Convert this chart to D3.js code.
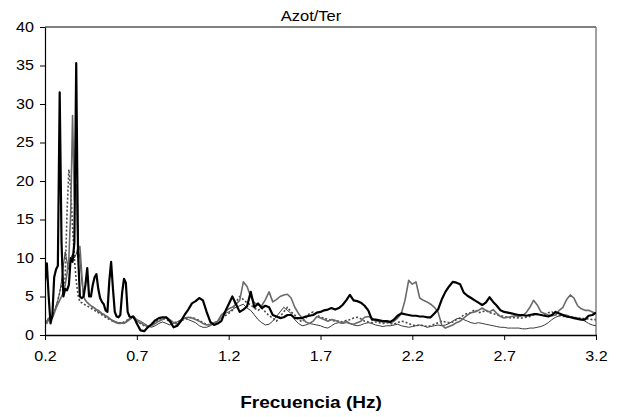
<!DOCTYPE html>
<html><head><meta charset="utf-8">
<script src="https://cdn.jsdelivr.net/npm/d3@7"></script>
<style>
html,body{margin:0;padding:0;background:#fff;}
svg{display:block;font-family:"Liberation Sans",Arial,sans-serif;}
</style></head>
<body><svg id="chart" width="621" height="417"></svg>
<script>
const title = "Azot/Ter";
const xLabel = "Frecuencia (Hz)";
const xTicks = [0.2, 0.7, 1.2, 1.7, 2.2, 2.7, 3.2];
const yTicks = [0, 5, 10, 15, 20, 25, 30, 35, 40];

const freq = [
  0.20,0.21,0.22,0.23,0.24,0.25,0.26,0.27,0.28,0.29,
  0.30,0.31,0.32,0.33,0.34,0.35,0.36,0.37,0.38,0.39,
  0.40,0.41,0.42,0.43,0.44,0.45,0.46,0.47,0.48,0.49,
  0.50,0.51,0.52,0.53,0.54,0.55,0.56,0.57,0.58,0.59,
  0.60,0.61,0.62,0.63,0.64,0.65,0.66,0.67,0.68,0.69,0.70,
  0.72,0.74,0.76,0.78,0.80,0.82,0.84,0.86,0.88,0.90,
  0.92,0.94,0.96,0.98,1.00,1.02,1.04,1.06,1.08,1.10,
  1.12,1.14,1.16,1.18,1.20,1.22,1.24,1.26,1.28,1.30,
  1.32,1.34,1.36,1.38,1.40,1.42,1.44,1.46,1.48,1.50,
  1.52,1.54,1.56,1.58,1.60,1.62,1.64,1.66,1.68,1.70,
  1.72,1.74,1.76,1.78,1.80,1.82,1.84,1.86,1.88,1.90,
  1.92,1.94,1.96,1.98,2.00,2.02,2.04,2.06,2.08,2.10,
  2.12,2.14,2.16,2.18,2.20,2.22,2.24,2.26,2.28,2.30,
  2.32,2.34,2.36,2.38,2.40,2.42,2.44,2.46,2.48,2.50,
  2.52,2.54,2.56,2.58,2.60,2.62,2.64,2.66,2.68,2.70,
  2.72,2.74,2.76,2.78,2.80,2.82,2.84,2.86,2.88,2.90,
  2.92,2.94,2.96,2.98,3.00,3.02,3.04,3.06,3.08,3.10,
  3.12,3.14,3.16,3.18,3.20
];

const serieNegra = [
  7.0,9.3,5.0,1.5,2.5,7.5,8.5,9.0,31.5,12.0,
  5.0,6.0,5.8,6.5,10.0,9.5,12.0,35.3,10.5,5.0,
  4.8,5.0,6.5,8.7,5.0,5.0,6.5,7.5,7.9,6.0,
  4.8,4.3,4.0,3.2,3.0,7.0,9.5,6.0,3.0,2.4,
  2.3,2.6,5.5,7.3,6.8,3.0,2.4,2.3,2.4,2.0,1.5,
  0.6,0.5,1.0,1.4,1.9,2.2,2.3,2.3,1.8,1.0,
  1.2,1.8,2.6,3.3,4.1,4.4,4.8,4.5,3.0,1.7,
  1.3,1.5,1.8,3.0,4.0,5.0,4.0,3.0,3.3,3.7,
  5.6,3.6,4.1,3.5,3.8,3.6,2.6,2.4,2.2,2.3,
  2.6,2.6,2.2,2.2,2.2,2.4,2.5,2.6,2.9,3.0,
  3.2,3.3,3.5,3.3,3.5,3.9,4.5,5.2,4.5,4.4,
  4.2,3.8,3.2,2.0,2.0,1.9,1.8,1.8,1.7,2.0,
  2.5,2.8,2.7,2.6,2.5,2.5,2.4,2.4,2.3,2.3,
  2.8,3.3,4.6,5.6,6.3,6.9,6.8,6.6,5.5,5.1,
  4.8,4.5,4.2,3.9,4.2,4.9,4.3,3.8,3.2,3.0,
  2.9,2.8,2.7,2.6,2.6,2.5,2.6,2.7,2.7,2.6,
  2.5,2.4,2.6,3.0,2.8,2.6,2.4,2.3,2.2,2.1,
  2.0,2.0,2.5,2.6,2.9
];

const serieGris = [
  1.8,1.5,2.0,2.3,2.2,2.8,3.5,4.0,4.5,5.0,
  5.5,6.5,8.0,10.0,16.0,28.5,17.5,19.5,11.0,11.5,
  8.0,5.0,4.5,4.2,4.0,3.8,3.6,3.5,3.3,3.2,
  3.0,2.8,2.7,2.5,2.4,2.2,2.0,1.8,1.7,1.6,
  1.5,1.5,1.6,1.5,1.7,1.8,2.0,2.2,2.4,2.2,1.8,
  1.6,1.3,1.1,1.2,1.5,1.8,2.0,2.3,2.0,1.6,
  1.4,1.8,2.2,2.3,2.2,2.0,1.8,1.5,1.3,1.4,
  1.6,1.8,2.6,3.0,3.4,3.6,4.0,4.5,6.9,6.3,
  5.0,4.2,3.9,3.8,4.6,5.6,4.3,4.6,5.0,5.2,
  5.3,4.8,3.6,2.8,2.2,1.7,1.5,1.8,2.4,2.2,
  2.0,1.8,2.0,1.9,1.7,1.6,1.8,1.5,1.4,1.6,
  1.8,2.3,2.4,2.2,1.9,1.8,1.7,1.7,1.6,1.8,
  2.2,2.8,4.5,7.1,6.6,6.9,4.8,4.5,4.3,4.0,
  3.6,3.0,1.3,0.9,1.1,1.3,1.6,1.8,2.2,2.6,
  2.9,3.0,3.2,3.5,3.2,3.0,3.3,2.8,2.4,2.2,
  2.3,2.4,2.5,2.4,2.5,2.9,3.6,4.5,3.9,3.0,
  2.8,2.6,2.5,2.6,3.2,3.6,4.6,5.2,4.8,3.8,
  3.4,3.2,3.2,3.0,2.8
];

const seriePunteada = [
  1.6,1.8,2.2,2.6,2.8,3.0,3.5,4.5,5.5,6.5,
  6.0,7.5,16.0,21.5,19.0,14.0,10.0,7.0,5.2,4.3,
  4.2,4.0,3.9,3.8,3.6,3.5,3.3,3.2,3.0,2.9,
  2.8,2.6,2.5,2.3,2.2,2.0,1.9,1.8,1.7,1.6,
  1.6,1.6,1.6,1.7,1.8,2.0,2.1,2.2,2.3,2.1,1.8,
  1.5,1.2,1.0,1.3,1.7,2.0,2.2,2.0,1.8,1.7,
  1.6,1.9,2.0,2.2,2.3,2.1,1.9,1.6,1.4,1.3,
  1.5,1.8,2.2,2.5,2.8,3.2,4.3,5.0,4.6,4.2,
  3.9,3.5,3.2,3.5,3.0,2.5,2.2,1.8,2.4,3.0,
  3.6,3.0,2.6,2.0,1.7,2.2,2.8,3.0,2.6,2.3,
  2.2,2.0,1.9,1.8,1.8,1.7,1.9,2.0,2.2,2.3,
  2.1,1.8,1.7,1.6,1.7,1.6,1.5,1.6,1.5,1.4,
  1.6,1.8,1.7,1.5,1.3,1.2,1.3,1.2,1.1,1.2,
  1.4,1.6,1.8,1.7,1.6,1.7,2.0,2.2,2.6,2.8,
  2.9,3.3,2.9,3.0,3.2,2.9,2.8,2.6,2.5,2.4,
  2.3,2.2,2.3,2.2,2.2,2.3,2.4,2.6,2.7,2.6,
  2.7,2.9,3.0,2.7,2.5,2.4,2.4,2.3,2.3,2.2,
  2.2,2.1,2.1,2.0,2.0
];

const serieFina = [
  2.0,1.8,2.2,2.5,2.3,3.0,3.8,4.5,5.5,7.0,
  9.0,10.8,9.5,8.5,10.0,10.5,10.0,10.5,11.5,10.0,
  7.0,5.0,4.5,4.3,4.0,3.8,3.7,3.5,3.2,3.0,
  2.9,2.7,2.6,2.4,2.3,2.1,2.0,1.9,1.8,1.7,
  1.6,1.6,1.5,1.5,1.6,1.8,2.2,2.4,2.5,2.3,2.0,
  1.8,1.5,1.2,1.0,1.2,1.5,1.7,1.5,1.3,1.5,
  1.7,2.0,2.2,2.0,1.8,1.6,1.2,1.0,1.0,1.2,
  1.5,1.8,2.3,2.8,3.0,3.3,3.6,3.8,4.0,3.5,
  3.2,2.6,2.0,1.6,1.3,1.4,1.8,2.4,3.0,3.6,
  3.2,2.8,2.0,1.5,1.2,1.3,1.5,1.4,1.3,1.2,
  1.0,0.9,1.2,1.5,1.6,1.5,1.6,1.5,1.3,1.2,
  1.3,1.5,1.6,1.5,1.3,1.2,1.1,1.2,1.2,1.3,
  1.4,1.2,1.1,1.0,1.1,1.2,1.3,1.2,1.0,1.1,
  1.2,1.3,1.2,1.3,1.5,1.8,2.1,2.2,2.0,1.8,
  1.6,1.5,1.6,1.5,1.4,1.3,1.2,1.1,1.0,1.0,
  0.9,0.9,0.9,0.9,0.8,0.8,0.9,0.9,1.0,1.1,
  1.3,1.6,2.0,2.3,2.5,2.6,2.6,2.4,2.3,2.2,
  2.0,1.8,1.5,1.3,1.2
];

const svg = d3.select("#chart");
const m = {left: 45, right: 596, top: 27, bottom: 335};
const x = d3.scaleLinear().domain([0.2, 3.2]).range([m.left, m.right]);
const y = d3.scaleLinear().domain([0, 40]).range([m.bottom, m.top]);
const SX = 1.15; // horizontal stretch of the original text

// plot border: top black, right gray
svg.append("line").attr("x1", m.left).attr("x2", m.right).attr("y1", m.top).attr("y2", m.top)
  .attr("stroke", "#000").attr("stroke-width", 1);
svg.append("line").attr("x1", m.right).attr("x2", m.right).attr("y1", m.top).attr("y2", m.bottom)
  .attr("stroke", "#808080").attr("stroke-width", 1.5);

const series = [
  {v: serieFina, color: "#3a3a3a", w: 1, dash: null},
  {v: seriePunteada, color: "#4a4a4a", w: 1.6, dash: "2,2"},
  {v: serieGris, color: "#6a6a6a", w: 1.6, dash: null},
  {v: serieNegra, color: "#000000", w: 2.2, dash: null}
];
svg.append("clipPath").attr("id", "pc").append("rect")
  .attr("x", m.left).attr("y", m.top - 2).attr("width", m.right - m.left).attr("height", m.bottom - m.top + 2);
const g = svg.append("g").attr("clip-path", "url(#pc)");
series.forEach(s => {
  const pts = freq.map((f, i) => [f, s.v[i]]).filter(p => p[1] !== undefined);
  g.append("path")
    .attr("d", d3.line().x(d => x(d[0])).y(d => y(d[1]))(pts))
    .attr("fill", "none").attr("stroke", s.color).attr("stroke-width", s.w)
    .attr("stroke-linejoin", "round")
    .attr("stroke-dasharray", s.dash);
});

// axes
const yAxis = svg.append("g").attr("transform", `translate(${m.left},0)`)
  .call(d3.axisLeft(y).tickValues(yTicks).tickSize(5).tickPadding(6).tickSizeOuter(0));
yAxis.select(".domain").attr("stroke", "#000").attr("stroke-width", 1.2);
yAxis.selectAll(".tick line").attr("stroke", "#000");
yAxis.selectAll("text").attr("font-size", 14).attr("fill", "#000")
  .attr("font-family", "Liberation Sans, Arial, sans-serif")
  .attr("x", -11 / SX).attr("transform", `scale(${SX},1)`);

const xAxis = svg.append("g").attr("transform", `translate(0,${m.bottom})`)
  .call(d3.axisBottom(x).tickValues(xTicks).tickFormat(d3.format(".1f")).tickSize(5).tickPadding(11).tickSizeOuter(0));
xAxis.select(".domain").attr("stroke", "#000").attr("stroke-width", 1.5);
xAxis.selectAll(".tick line").attr("stroke", "#000");
xAxis.selectAll("text").attr("font-size", 14).attr("fill", "#000")
  .attr("font-family", "Liberation Sans, Arial, sans-serif")
  .attr("transform", `scale(${SX},1)`);

svg.append("text").attr("transform", `translate(311,21) scale(1.1,1)`).attr("text-anchor", "middle")
  .attr("font-size", 15).attr("fill", "#000").text(title);
svg.append("text").attr("transform", `translate(311,408) scale(1.12,1)`).attr("text-anchor", "middle")
  .attr("font-size", 17).attr("font-weight", "bold").attr("fill", "#000").text(xLabel);
</script></body></html>
